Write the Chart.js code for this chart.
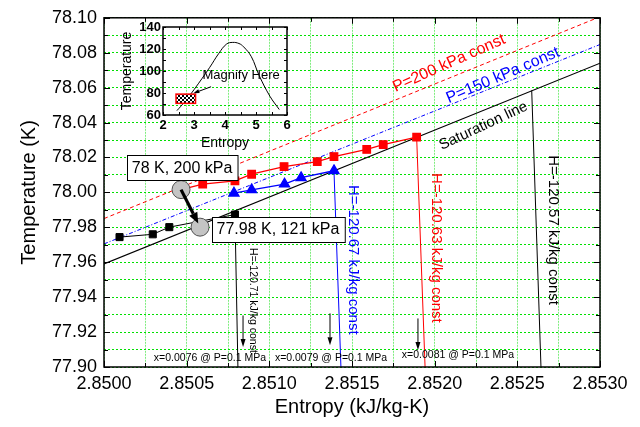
<!DOCTYPE html>
<html><head><meta charset="utf-8">
<script src="https://cdn.jsdelivr.net/npm/chart.js@4/dist/chart.umd.min.js"></script>
<style>
html,body{margin:0;padding:0;background:#fff;}
#wrap{position:relative;width:640px;height:427px;overflow:hidden;}
#main{position:absolute;left:0;top:0;}
#inset{position:absolute;left:110px;top:15px;}
</style></head><body>
<div id="wrap"><canvas id="main" width="640" height="427"></canvas><canvas id="inset" width="190" height="140"></canvas></div>
<script>
// ---------------- data (main chart) ----------------
const satS  = [2.8500, 2.8530];
const satT  = [77.959, 78.074];
const p200S = [2.8500, 2.8530];
const p200T = [77.985, 78.1006];
const p150S = [2.8500, 2.8530];
const p150T = [77.9705, 78.0847];

const blackS = [2.850094, 2.850295, 2.850395, 2.850792];
const blackT = [77.9744, 77.9760, 77.9801, 77.9873];
const redS = [2.850466, 2.850597, 2.850792, 2.850893, 2.851089, 2.851290, 2.851391, 2.851589, 2.851689, 2.851891];
const redT = [78.0016, 78.0047, 78.0066, 78.0104, 78.0148, 78.0176, 78.0205, 78.0246, 78.0274, 78.0316];
const blueS = [2.850786, 2.850893, 2.851092, 2.851192, 2.851391];
const blueT = [77.9996, 78.0015, 78.0048, 78.0084, 78.0124];

const circS = [2.850466, 2.850581];
const circT = [78.0016, 77.9801];

const hBlackS = [2.850792, 2.850810];  const hBlackT = [77.9873, 77.90];
const hBlueS  = [2.851391, 2.851433];  const hBlueT  = [78.0124, 77.90];
const hRedS   = [2.851891, 2.851942];  const hRedT   = [78.0316, 77.90];
const h57S    = [2.852587, 2.852643];  const h57T    = [78.0584, 77.90];

const xMin = 2.8500, xMax = 2.8530, xStep = 0.00025;
const yMin = 77.90, yMax = 78.10, yStep = 0.01;

// ---------------- data (inset) ----------------
const insetS = [2.45, 2.7, 3.0, 3.5, 3.8, 4.05, 4.25, 4.45, 4.6, 4.85, 5.1, 5.45, 5.75];
const insetT = [64, 72, 83, 103, 116, 124.5, 126, 125, 122, 113, 96, 77, 65];
const magS = [2.42, 3.05];
const magT = [70.6, 79.0];

const FONT = "'Liberation Sans', Arial, Helvetica, sans-serif";
Chart.defaults.font.family = FONT;
Chart.defaults.color = '#000';

function pts(xs, ys) { return xs.map((v, i) => ({x: v, y: ys[i]})); }

// ---------------- annotation layout (data coordinates) ----------------
const rotLabels = [
  {t: 'P=200 kPa const', s: 2.852087, T: 78.0739, a: -24, c: '#ff0000', f: 16},
  {t: 'P=150 kPa const', s: 2.852413, T: 78.0670, a: -23, c: '#0000ff', f: 16},
  {t: 'Saturation line', s: 2.852295, T: 78.0381, a: -25, c: '#000000', f: 15},
  {t: 'H=-120.67 kJ/kg const', s: 2.851506, T: 77.9614, a: 90, c: '#0000ff', f: 15},
  {t: 'H=-120.63 kJ/kg const', s: 2.852008, T: 77.9682, a: 90, c: '#ff0000', f: 15},
  {t: 'H=-120.57 kJ/kg const', s: 2.852716, T: 77.9784, a: 90, c: '#000000', f: 15},
  {t: 'H=-120.71 kJ/kg const', s: 2.850901, T: 77.9381, a: 90, c: '#000000', f: 10.5},
  {t: 'x=0.0076 @ P=0.1 MPa', s: 2.850641, T: 77.9051, a: 0, c: '#000000', f: 10.5},
  {t: 'x=0.0079 @ P=0.1 MPa', s: 2.851373, T: 77.9051, a: 0, c: '#000000', f: 10.5},
  {t: 'x=0.0081 @ P=0.1 MPa', s: 2.852141, T: 77.9068, a: 0, c: '#000000', f: 10.5}
];
const downArrows = [
  {s: 2.850841, T1: 77.9295, T2: 77.9114},
  {s: 2.851367, T1: 77.9307, T2: 77.9125},
  {s: 2.851899, T1: 77.9278, T2: 77.9097}
];
const boxes = [
  {t: '78 K, 200 kPa', s: 2.850472, T: 78.0142},
  {t: '77.98 K, 121 kPa', s: 2.851052, T: 77.9790}
];

function line(ctx, x1, y1, x2, y2) { ctx.beginPath(); ctx.moveTo(x1, y1); ctx.lineTo(x2, y2); ctx.stroke(); }
function arrow(ctx, x1, y1, x2, y2, w, hl, hw) {
  const ang = Math.atan2(y2 - y1, x2 - x1);
  const bx = x2 - hl * Math.cos(ang), by = y2 - hl * Math.sin(ang);
  ctx.lineWidth = w;
  line(ctx, x1, y1, bx, by);
  ctx.beginPath();
  ctx.moveTo(x2, y2);
  ctx.lineTo(bx + hw / 2 * Math.sin(ang), by - hw / 2 * Math.cos(ang));
  ctx.lineTo(bx - hw / 2 * Math.sin(ang), by + hw / 2 * Math.cos(ang));
  ctx.closePath();
  ctx.fill();
}

const decor = {
  id: 'decor',
  afterDatasetsDraw(chart) {
    const {ctx, chartArea: a, scales: {x, y}} = chart;
    ctx.save();
    ctx.strokeStyle = '#000'; ctx.lineWidth = 1;
    const nx = Math.round((xMax - xMin) / xStep), ny = Math.round((yMax - yMin) / yStep);
    for (let k = 0; k <= nx; k++) {
      const px = Math.round(x.getPixelForValue(xMin + k * xStep)) + 0.5;
      const L = k % 2 ? 4 : 6;
      line(ctx, px, a.top, px, a.top + L);
      line(ctx, px, a.bottom, px, a.bottom - L);
    }
    for (let k = 0; k <= ny; k++) {
      const py = Math.round(y.getPixelForValue(yMin + k * yStep)) + 0.5;
      const L = k % 2 ? 4 : 6;
      line(ctx, a.left, py, a.left + L, py);
      line(ctx, a.right, py, a.right - L, py);
    }
    ctx.lineWidth = 1.5;
    ctx.strokeRect(a.left, a.top, a.right - a.left, a.bottom - a.top);

    ctx.fillStyle = '#000'; ctx.strokeStyle = '#000';
    const c1x = x.getPixelForValue(circS[0]), c1y = y.getPixelForValue(circT[0]);
    const c2x = x.getPixelForValue(circS[1]), c2y = y.getPixelForValue(circT[1]);
    const d = Math.hypot(c2x - c1x, c2y - c1y);
    arrow(ctx, c1x, c1y, c1x + (c2x - c1x) * (d - 4) / d, c1y + (c2y - c1y) * (d - 4) / d, 3.2, 11, 9);

    for (const ar of downArrows) {
      const px = x.getPixelForValue(ar.s);
      arrow(ctx, px, y.getPixelForValue(ar.T1), px, y.getPixelForValue(ar.T2), 1, 8, 5);
    }

    ctx.textAlign = 'center'; ctx.textBaseline = 'middle';
    for (const lb of rotLabels) {
      ctx.save();
      ctx.translate(x.getPixelForValue(lb.s), y.getPixelForValue(lb.T));
      ctx.rotate(lb.a * Math.PI / 180);
      ctx.fillStyle = lb.c;
      ctx.font = lb.f + 'px ' + FONT;
      ctx.fillText(lb.t, 0, 0);
      ctx.restore();
    }

    ctx.font = '16px ' + FONT;
    for (const b of boxes) {
      const cx = x.getPixelForValue(b.s), cy = y.getPixelForValue(b.T);
      const w = ctx.measureText(b.t).width + 10, h = 25;
      const L = Math.round(cx - w / 2) + 0.5, T = Math.round(cy - h / 2) + 0.5;
      ctx.fillStyle = '#fff'; ctx.fillRect(L, T, w, h);
      ctx.strokeStyle = '#000'; ctx.lineWidth = 1; ctx.strokeRect(L, T, w, h);
      ctx.fillStyle = '#000'; ctx.fillText(b.t, cx, cy + 1);
    }
    ctx.restore();
  }
};

new Chart(document.getElementById('main'), {
  type: 'scatter',
  data: {
    datasets: [
      {data: pts(circS, circT), pointRadius: 9, pointBackgroundColor: '#c4c4c4', pointBorderColor: '#505050', pointBorderWidth: 1, showLine: false},
      {data: pts(blackS, blackT), showLine: true, borderColor: '#000', borderWidth: 1, pointStyle: 'rect', pointRadius: 5, pointBackgroundColor: '#000', pointBorderColor: '#000'},
      {data: pts(redS, redT), showLine: true, borderColor: '#ff0000', borderWidth: 1.3, pointStyle: 'rect', pointRadius: redS.map((v, i) => i === 0 ? 0 : 5.3), pointBackgroundColor: '#ff0000', pointBorderColor: '#ff0000'},
      {data: pts(blueS, blueT), showLine: true, borderColor: '#0000ff', borderWidth: 1.3, pointStyle: 'triangle', pointRadius: 5.8, pointBackgroundColor: '#0000ff', pointBorderColor: '#0000ff'},
      {data: pts(hBlackS, hBlackT), showLine: true, borderColor: '#000', borderWidth: 1, pointRadius: 0},
      {data: pts(hBlueS, hBlueT), showLine: true, borderColor: '#0000ff', borderWidth: 1, pointRadius: 0},
      {data: pts(hRedS, hRedT), showLine: true, borderColor: '#ff0000', borderWidth: 1, pointRadius: 0},
      {data: pts(h57S, h57T), showLine: true, borderColor: '#000', borderWidth: 1, pointRadius: 0},
      {data: pts(satS, satT), showLine: true, borderColor: '#000', borderWidth: 1.2, pointRadius: 0},
      {data: pts(p200S, p200T), showLine: true, borderColor: '#ff0000', borderWidth: 1, borderDash: [4, 3], pointRadius: 0},
      {data: pts(p150S, p150T), showLine: true, borderColor: '#0000ff', borderWidth: 1, borderDash: [4, 2, 1, 2], pointRadius: 0}
    ]
  },
  options: {
    responsive: false, animation: false, devicePixelRatio: 1,
    layout: {padding: {left: 0, right: 40, top: 15, bottom: 0}},
    plugins: {legend: {display: false}, tooltip: {enabled: false}},
    scales: {
      x: {
        type: 'linear', min: xMin, max: xMax,
        afterFit: s => { s.height = 60; },
        ticks: {stepSize: xStep, autoSkip: false, maxRotation: 0, minRotation: 0, padding: 6,
          font: {size: 18},
          callback: v => (Math.round((v - xMin) / xStep) % 2 === 0 ? v.toFixed(4) : '')},
        grid: {color: 'rgba(40,225,40,0.6)', lineWidth: 1, drawTicks: false},
        border: {display: false, dash: [2, 1]},
        title: {display: true, text: 'Entropy (kJ/kg-K)', font: {size: 20}, padding: {top: 0, bottom: 8}}
      },
      y: {
        type: 'linear', min: yMin, max: yMax,
        afterFit: s => { s.width = 104; },
        ticks: {stepSize: yStep, autoSkip: false, padding: 7, font: {size: 18},
          callback: v => (Math.round((v - yMin) / yStep) % 2 === 0 ? v.toFixed(2) : '')},
        grid: {color: '#00e000', lineWidth: 1, drawTicks: false},
        border: {display: false, dash: [2, 2]},
        title: {display: true, text: 'Temperature (K)', font: {size: 20}, padding: {top: 17, bottom: 0}}
      }
    }
  },
  plugins: [decor]
});

// ---------------- inset ----------------
const insetDecor = {
  id: 'insetDecor',
  afterDatasetsDraw(chart) {
    const {ctx, chartArea: a, scales: {x, y}} = chart;
    ctx.save();
    ctx.strokeStyle = '#000'; ctx.lineWidth = 1;
    for (let v = 2; v <= 6.001; v += 0.5) {
      const px = Math.round(x.getPixelForValue(v)) + 0.5;
      line(ctx, px, a.bottom, px, a.bottom - 3);
      line(ctx, px, a.top, px, a.top + 3);
    }
    for (let v = 60; v <= 140.001; v += 10) {
      const py = Math.round(y.getPixelForValue(v)) + 0.5;
      line(ctx, a.left, py, a.left + 3, py);
      line(ctx, a.right, py, a.right - 3, py);
    }
    ctx.lineWidth = 1.5;
    ctx.strokeRect(a.left, a.top, a.right - a.left, a.bottom - a.top);

    const pc = document.createElement('canvas'); pc.width = 4; pc.height = 4;
    const pctx = pc.getContext('2d');
    pctx.fillStyle = '#fff'; pctx.fillRect(0, 0, 4, 4);
    pctx.fillStyle = '#000'; pctx.fillRect(0, 0, 2, 2); pctx.fillRect(2, 2, 2, 2);
    const bx1 = x.getPixelForValue(magS[0]), bx2 = x.getPixelForValue(magS[1]);
    const by1 = y.getPixelForValue(magT[1]), by2 = y.getPixelForValue(magT[0]);
    ctx.fillStyle = ctx.createPattern(pc, 'repeat');
    ctx.fillRect(bx1, by1, bx2 - bx1, by2 - by1);
    ctx.strokeStyle = '#ff0000'; ctx.lineWidth = 1.5;
    ctx.strokeRect(bx1, by1, bx2 - bx1, by2 - by1);

    ctx.fillStyle = '#000'; ctx.strokeStyle = '#000';
    arrow(ctx, x.getPixelForValue(3.55), y.getPixelForValue(85.7), x.getPixelForValue(2.98), y.getPixelForValue(79.7), 1, 6, 4);
    ctx.font = '13px ' + FONT; ctx.textAlign = 'center'; ctx.textBaseline = 'middle';
    ctx.fillText('Magnify Here', x.getPixelForValue(4.52), y.getPixelForValue(96.4));
    ctx.restore();
  }
};

new Chart(document.getElementById('inset'), {
  type: 'scatter',
  data: {datasets: [
    {data: pts(insetS, insetT), showLine: true, borderColor: '#000', borderWidth: 1, pointRadius: 0, tension: 0.4}
  ]},
  options: {
    responsive: false, animation: false, devicePixelRatio: 1,
    layout: {padding: {left: 0, right: 13, top: 12, bottom: 0}},
    plugins: {legend: {display: false}, tooltip: {enabled: false}},
    scales: {
      x: {type: 'linear', min: 2, max: 6,
        afterFit: s => { s.height = 40; },
        ticks: {stepSize: 1, padding: 3, maxRotation: 0, font: {size: 13, weight: 'bold'}},
        grid: {display: false, drawTicks: false}, border: {display: false},
        title: {display: true, text: 'Entropy', font: {size: 14}, padding: {top: 0, bottom: 3}}},
      y: {type: 'linear', min: 60, max: 140,
        afterFit: s => { s.width = 53; },
        ticks: {stepSize: 20, padding: 2, font: {size: 13, weight: 'bold'}},
        grid: {display: false, drawTicks: false}, border: {display: false},
        title: {display: true, text: 'Temperature', font: {size: 14}, padding: {top: 9, bottom: 0}}}
    }
  },
  plugins: [insetDecor]
});
</script>
</body></html>
